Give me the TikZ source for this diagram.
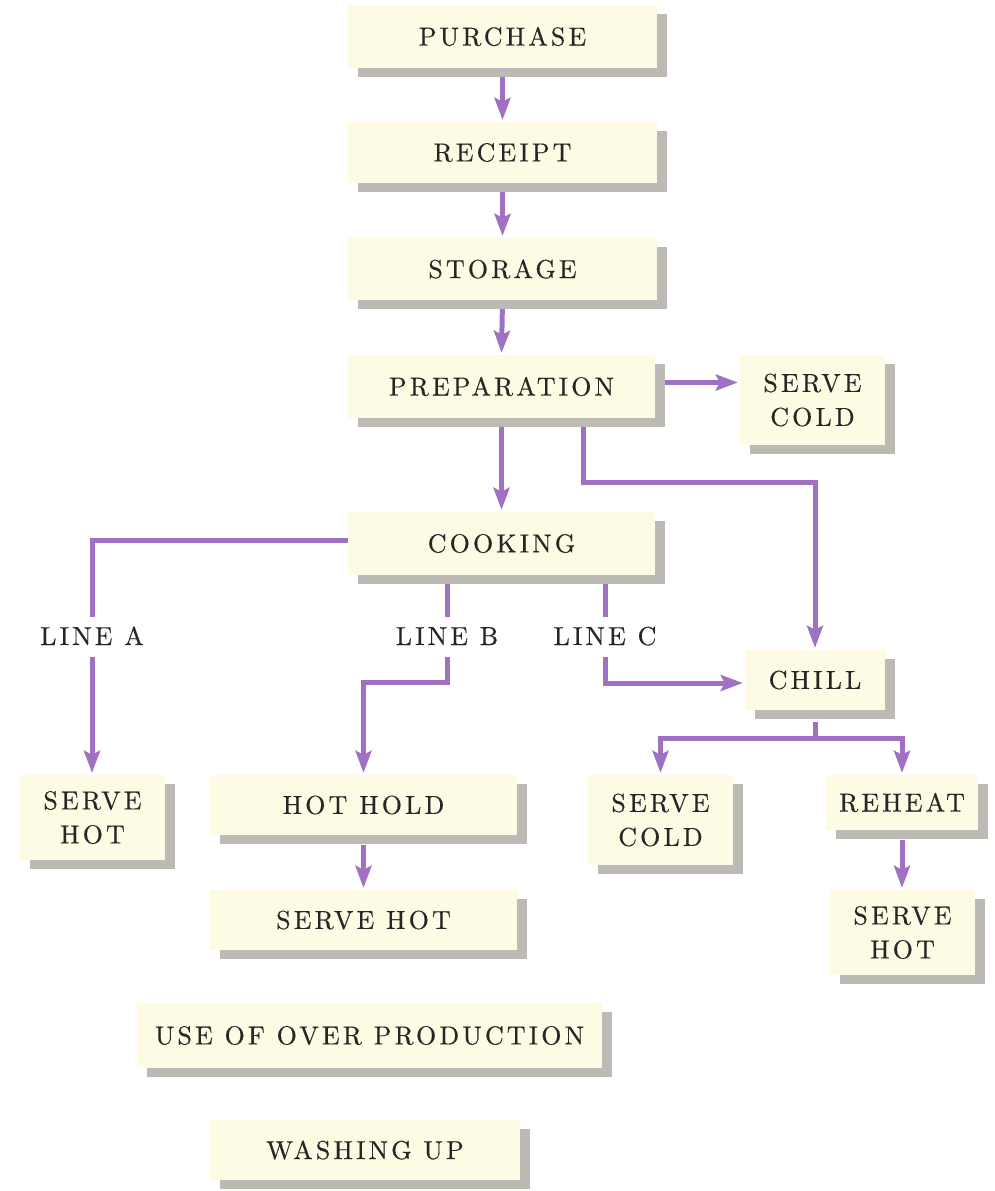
\documentclass[tikz,border=0pt]{standalone}
\usepackage{fontspec}
\usetikzlibrary{arrows.meta,shadows}
\definecolor{boxfill}{HTML}{FDFBE4}
\definecolor{shadowgray}{HTML}{BDB9B5}
\definecolor{arrowpurple}{HTML}{A070C2}
\definecolor{textgray}{HTML}{262626}
\newfontfamily\lmspaced{lmroman10-regular.otf}[LetterSpace=12, FakeBold=0.4]
\newcommand\labfont{\lmspaced\fontsize{26}{34}\selectfont}
\begin{document}
\begin{tikzpicture}[x=1pt,y=-1pt,
  box/.style={rectangle, fill=boxfill, text=textgray, align=center, inner sep=0pt, font=\labfont,
    general shadow={fill=shadowgray, shadow xshift=10pt, shadow yshift=-9pt}},
  lbl/.style={text=textgray, font=\labfont, inner xsep=2pt, inner ysep=12pt, text height=16pt, text depth=0pt},
  ln/.style={draw=arrowpurple, line width=5pt},
  arr/.style={ln, -{Stealth[length=22pt,width=16pt,inset=4pt]}, shorten >=2pt}]
\fill[white] (0,0) rectangle (994,1191);
\useasboundingbox (0,0) rectangle (994,1191);

\node[box, minimum width=309, minimum height=63] (purchase) at (502.5,36.5) {PURCHASE};
\node[box, minimum width=309, minimum height=61] (receipt) at (502.5,152.5) {RECEIPT};
\node[box, minimum width=309, minimum height=62] (storage) at (502.5,269) {STORAGE};
\node[box, minimum width=307, minimum height=63] (prep) at (501.5,386.5) {PREPARATION};
\node[box, minimum width=145, minimum height=90] (servecoldA) at (812.5,400) {SERVE\\COLD};
\node[box, minimum width=307, minimum height=63] (cooking) at (501.5,543.5) {COOKING};
\node[box, minimum width=140, minimum height=60] (chill) at (815,680) {CHILL};
\node[box, minimum width=145, minimum height=85] (servehotA) at (92.5,817.5) {SERVE\\HOT};
\node[box, minimum width=307, minimum height=60] (hothold) at (363.5,805) {HOT HOLD};
\node[box, minimum width=307, minimum height=60] (servehotB) at (363.5,920) {SERVE HOT};
\node[box, minimum width=145, minimum height=90] (servecoldB) at (660.5,820) {SERVE\\COLD};
\node[box, minimum width=152, minimum height=55] (reheat) at (902,802.5) {REHEAT};
\node[box, minimum width=145, minimum height=85] (servehotC) at (902.5,932.5) {SERVE\\HOT};
\node[box, minimum width=465, minimum height=65] (overprod) at (369.5,1035.5) {USE OF OVER PRODUCTION};
\node[box, minimum width=310, minimum height=60] (washing) at (365,1150) {WASHING UP};

\node[lbl] (lineA) at (92,637) {LINE A};
\node[lbl] (lineB) at (447,637) {LINE B};
\node[lbl] (lineC) at (605,637) {LINE C};

\draw[arr, shorten <=9pt] (purchase.south) -- (receipt.north);
\draw[arr, shorten <=9pt] (receipt.south) -- (storage.north);
\draw[arr, shorten <=9pt] (storage.south) -- (prep.north);
\draw[arr, shorten <=9pt] (prep.south) -- (cooking.north);
\coordinate (pe) at ([yshift=4pt]prep.east);
\draw[arr, shorten <=10pt] (pe) -- (pe -| servecoldA.west);
\draw[arr, shorten <=9pt] ([xshift=81.5pt]prep.south) -- ++(0,64) -| (chill.north);

\draw[ln] ([yshift=3pt]cooking.west) -| (lineA.north);
\draw[arr] (lineA.south) -- (lineA.south |- servehotA.north);
\draw[ln, shorten <=9pt] (cooking.south -| lineB) -- (lineB.north);
\draw[arr] (lineB.south) -- ++(0,25) -| (hothold.north);
\draw[ln, shorten <=9pt] (cooking.south -| lineC) -- (lineC.north);
\draw[arr] (lineC.south) |- ([yshift=-3pt]chill.west);

\draw[arr, shorten <=12pt] (chill.south) -- ++(0,28) -| (servecoldB.north);
\draw[arr, shorten <=12pt] (chill.south) -- ++(0,28) -| (reheat.north);
\draw[arr, shorten <=10pt] (hothold.south) -- (servehotB.north);
\draw[arr, shorten <=10pt] (reheat.south) -- (reheat.south |- servehotC.north);
\end{tikzpicture}
\end{document}
